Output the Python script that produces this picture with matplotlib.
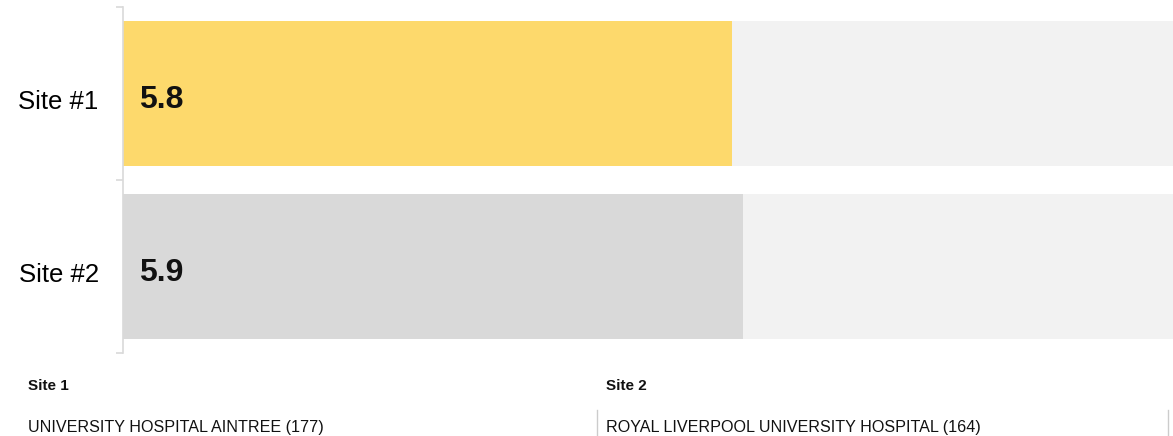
import matplotlib.pyplot as plt
from matplotlib.lines import Line2D
from matplotlib.transforms import ScaledTranslation

plt.rcParams["font.family"] = ["Liberation Sans", "DejaVu Sans"]

# data
sites = ["Site #1", "Site #2"]
scores = [5.8, 5.9]
scale_max = 10
bar_colors = ["#FDD96C", "#D9D9D9"]
footer_titles = ["Site 1", "Site 2"]
footer_names = ["UNIVERSITY HOSPITAL AINTREE (177)", "ROYAL LIVERPOOL UNIVERSITY HOSPITAL (164)"]

W, H = 1173, 436
fig = plt.figure(figsize=(W / 100, H / 100), dpi=100)
ax = fig.add_axes([123 / W, 1 - 353 / H, 1 - 123 / W, 346 / H])

# text sits a little below the band centre in the original
shift_down = ScaledTranslation(0, -6 / 100, fig.dpi_scale_trans)

y = list(range(len(sites)))
ax.barh(y, [scale_max] * len(sites), height=0.84, color="#F2F2F2", zorder=1)
ax.barh(y, scores, height=0.84, color=bar_colors, zorder=2)

for yi, v in zip(y, scores):
    ax.text(0.15, yi, f"{v:.1f}", va="center", ha="left",
            fontsize=23, fontweight="bold", color="#111111", zorder=3,
            transform=ax.transData + shift_down)

ax.set_xlim(0, scale_max)
ax.set_ylim(len(sites) - 0.5, -0.5)
ax.set_xticks([])

# band ticks on the boundaries, labels in the middle
ax.set_yticks([i - 0.5 for i in range(len(sites) + 1)])
ax.set_yticklabels([])
ax.set_yticks(y, minor=True)
ax.set_yticklabels(sites, minor=True, fontsize=18.5)
ax.tick_params(axis="y", which="major", length=5, width=1.2, color="#D9D9D9")
ax.tick_params(axis="y", which="minor", length=0, pad=17.5)
for lab in ax.get_yticklabels(minor=True):
    lab.set_transform(lab.get_transform() + shift_down)

for s in ["top", "right", "bottom"]:
    ax.spines[s].set_visible(False)
ax.spines["left"].set_color("#D9D9D9")
ax.spines["left"].set_linewidth(1.2)

# footer with site names
for x0, title, name in zip([28, 606], footer_titles, footer_names):
    fig.text(x0 / W, 1 - 386 / H, title, fontsize=11, fontweight="bold",
             va="center", ha="left", color="#111111")
    fig.text(x0 / W, 1 - 427 / H, name, fontsize=11.6,
             va="center", ha="left", color="#111111")

for xl in [597, 1168]:
    fig.add_artist(Line2D([xl / W, xl / W], [0, 1 - 410 / H],
                          transform=fig.transFigure, color="#CCCCCC", lw=1))

fig.savefig("out.png", dpi=100, facecolor="white")
